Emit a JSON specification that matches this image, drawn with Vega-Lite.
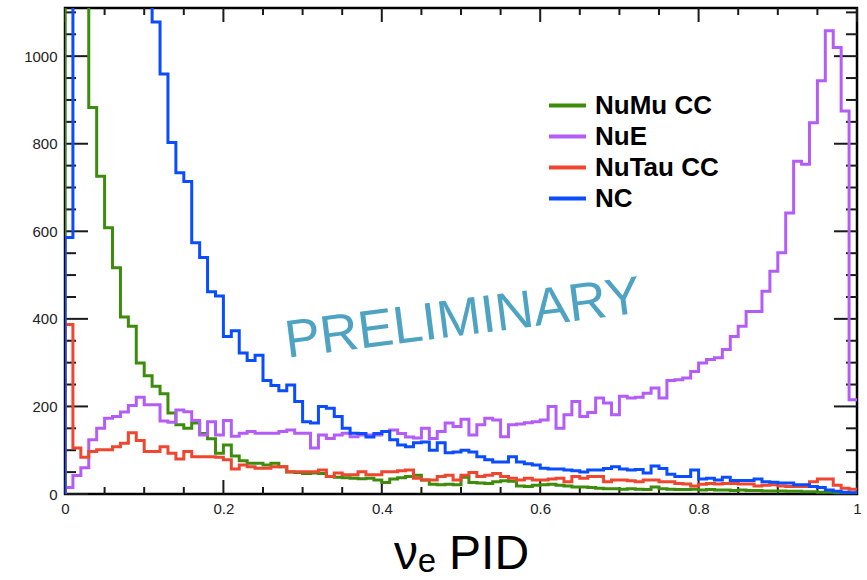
{
  "$schema": "https://vega.github.io/schema/vega-lite/v6.json",
  "width": 792,
  "height": 486,
  "autosize": {"type": "none"},
  "padding": {"left": 65, "top": 8, "right": 10, "bottom": 86},
  "background": "white",
  "datasets": {
    "hist": [
      {"x": 0, "NuMu CC": 0, "NuE": 0, "NuTau CC": 0, "NC": 0},
      {"x": 0.00, "NuMu CC": 4200, "NuE": 15, "NuTau CC": 387, "NC": 586},
      {"x": 0.01, "NuMu CC": 2400, "NuE": 42, "NuTau CC": 105, "NC": 3800},
      {"x": 0.02, "NuMu CC": 1500, "NuE": 60, "NuTau CC": 84, "NC": 3300},
      {"x": 0.03, "NuMu CC": 883, "NuE": 124, "NuTau CC": 97, "NC": 2900},
      {"x": 0.04, "NuMu CC": 726, "NuE": 150, "NuTau CC": 101, "NC": 2500},
      {"x": 0.05, "NuMu CC": 608, "NuE": 173, "NuTau CC": 101, "NC": 2200},
      {"x": 0.06, "NuMu CC": 517, "NuE": 177, "NuTau CC": 108, "NC": 1900},
      {"x": 0.07, "NuMu CC": 404, "NuE": 187, "NuTau CC": 116, "NC": 1650},
      {"x": 0.08, "NuMu CC": 383, "NuE": 202, "NuTau CC": 140, "NC": 1450},
      {"x": 0.09, "NuMu CC": 299, "NuE": 221, "NuTau CC": 122, "NC": 1300},
      {"x": 0.10, "NuMu CC": 270, "NuE": 204, "NuTau CC": 97, "NC": 1180},
      {"x": 0.11, "NuMu CC": 246, "NuE": 204, "NuTau CC": 97, "NC": 1078},
      {"x": 0.12, "NuMu CC": 229, "NuE": 167, "NuTau CC": 108, "NC": 959},
      {"x": 0.13, "NuMu CC": 185, "NuE": 164, "NuTau CC": 93, "NC": 803},
      {"x": 0.14, "NuMu CC": 158, "NuE": 192, "NuTau CC": 80, "NC": 734},
      {"x": 0.15, "NuMu CC": 150, "NuE": 188, "NuTau CC": 97, "NC": 714},
      {"x": 0.16, "NuMu CC": 162, "NuE": 168, "NuTau CC": 85, "NC": 574},
      {"x": 0.17, "NuMu CC": 138, "NuE": 135, "NuTau CC": 85, "NC": 540},
      {"x": 0.18, "NuMu CC": 126, "NuE": 165, "NuTau CC": 85, "NC": 462},
      {"x": 0.19, "NuMu CC": 93, "NuE": 135, "NuTau CC": 84, "NC": 452},
      {"x": 0.20, "NuMu CC": 112, "NuE": 168, "NuTau CC": 78, "NC": 360},
      {"x": 0.21, "NuMu CC": 87, "NuE": 132, "NuTau CC": 57, "NC": 373},
      {"x": 0.22, "NuMu CC": 76, "NuE": 139, "NuTau CC": 66, "NC": 322},
      {"x": 0.23, "NuMu CC": 70, "NuE": 143, "NuTau CC": 62, "NC": 305},
      {"x": 0.24, "NuMu CC": 70, "NuE": 139, "NuTau CC": 59, "NC": 317},
      {"x": 0.25, "NuMu CC": 66, "NuE": 139, "NuTau CC": 59, "NC": 259},
      {"x": 0.26, "NuMu CC": 70, "NuE": 139, "NuTau CC": 62, "NC": 248},
      {"x": 0.27, "NuMu CC": 62, "NuE": 143, "NuTau CC": 62, "NC": 236},
      {"x": 0.28, "NuMu CC": 50, "NuE": 146, "NuTau CC": 51, "NC": 249},
      {"x": 0.29, "NuMu CC": 49, "NuE": 139, "NuTau CC": 51, "NC": 211},
      {"x": 0.30, "NuMu CC": 47, "NuE": 139, "NuTau CC": 51, "NC": 165},
      {"x": 0.31, "NuMu CC": 48, "NuE": 105, "NuTau CC": 51, "NC": 162},
      {"x": 0.32, "NuMu CC": 47, "NuE": 135, "NuTau CC": 55, "NC": 200},
      {"x": 0.33, "NuMu CC": 40, "NuE": 127, "NuTau CC": 40, "NC": 196},
      {"x": 0.34, "NuMu CC": 38, "NuE": 135, "NuTau CC": 48, "NC": 177},
      {"x": 0.35, "NuMu CC": 37, "NuE": 139, "NuTau CC": 44, "NC": 150},
      {"x": 0.36, "NuMu CC": 36, "NuE": 131, "NuTau CC": 44, "NC": 139},
      {"x": 0.37, "NuMu CC": 35, "NuE": 135, "NuTau CC": 51, "NC": 138},
      {"x": 0.38, "NuMu CC": 36, "NuE": 135, "NuTau CC": 44, "NC": 130},
      {"x": 0.39, "NuMu CC": 32, "NuE": 135, "NuTau CC": 44, "NC": 138},
      {"x": 0.40, "NuMu CC": 26, "NuE": 143, "NuTau CC": 51, "NC": 143},
      {"x": 0.41, "NuMu CC": 34, "NuE": 146, "NuTau CC": 51, "NC": 124},
      {"x": 0.42, "NuMu CC": 37, "NuE": 138, "NuTau CC": 53, "NC": 112},
      {"x": 0.43, "NuMu CC": 40, "NuE": 130, "NuTau CC": 55, "NC": 108},
      {"x": 0.44, "NuMu CC": 43, "NuE": 128, "NuTau CC": 36, "NC": 117},
      {"x": 0.45, "NuMu CC": 32, "NuE": 150, "NuTau CC": 32, "NC": 119},
      {"x": 0.46, "NuMu CC": 22, "NuE": 127, "NuTau CC": 32, "NC": 100},
      {"x": 0.47, "NuMu CC": 21, "NuE": 143, "NuTau CC": 40, "NC": 117},
      {"x": 0.48, "NuMu CC": 22, "NuE": 162, "NuTau CC": 43, "NC": 94},
      {"x": 0.49, "NuMu CC": 21, "NuE": 154, "NuTau CC": 32, "NC": 96},
      {"x": 0.50, "NuMu CC": 38, "NuE": 171, "NuTau CC": 43, "NC": 100},
      {"x": 0.51, "NuMu CC": 26, "NuE": 135, "NuTau CC": 49, "NC": 96},
      {"x": 0.52, "NuMu CC": 25, "NuE": 158, "NuTau CC": 40, "NC": 85},
      {"x": 0.53, "NuMu CC": 24, "NuE": 173, "NuTau CC": 43, "NC": 78},
      {"x": 0.54, "NuMu CC": 28, "NuE": 169, "NuTau CC": 47, "NC": 73},
      {"x": 0.55, "NuMu CC": 30, "NuE": 131, "NuTau CC": 40, "NC": 73},
      {"x": 0.56, "NuMu CC": 29, "NuE": 158, "NuTau CC": 36, "NC": 85},
      {"x": 0.57, "NuMu CC": 18, "NuE": 160, "NuTau CC": 32, "NC": 73},
      {"x": 0.58, "NuMu CC": 17, "NuE": 163, "NuTau CC": 36, "NC": 69},
      {"x": 0.59, "NuMu CC": 20, "NuE": 165, "NuTau CC": 32, "NC": 66},
      {"x": 0.60, "NuMu CC": 21, "NuE": 169, "NuTau CC": 32, "NC": 59},
      {"x": 0.61, "NuMu CC": 22, "NuE": 200, "NuTau CC": 34, "NC": 57},
      {"x": 0.62, "NuMu CC": 20, "NuE": 150, "NuTau CC": 36, "NC": 57},
      {"x": 0.63, "NuMu CC": 18, "NuE": 181, "NuTau CC": 28, "NC": 55},
      {"x": 0.64, "NuMu CC": 16, "NuE": 211, "NuTau CC": 40, "NC": 53},
      {"x": 0.65, "NuMu CC": 16, "NuE": 177, "NuTau CC": 36, "NC": 50},
      {"x": 0.66, "NuMu CC": 15, "NuE": 186, "NuTau CC": 40, "NC": 55},
      {"x": 0.67, "NuMu CC": 13, "NuE": 219, "NuTau CC": 40, "NC": 55},
      {"x": 0.68, "NuMu CC": 12, "NuE": 208, "NuTau CC": 28, "NC": 58},
      {"x": 0.69, "NuMu CC": 12, "NuE": 181, "NuTau CC": 32, "NC": 62},
      {"x": 0.70, "NuMu CC": 11, "NuE": 223, "NuTau CC": 32, "NC": 57},
      {"x": 0.71, "NuMu CC": 12, "NuE": 219, "NuTau CC": 30, "NC": 55},
      {"x": 0.72, "NuMu CC": 11, "NuE": 221, "NuTau CC": 28, "NC": 56},
      {"x": 0.73, "NuMu CC": 10, "NuE": 230, "NuTau CC": 32, "NC": 48},
      {"x": 0.74, "NuMu CC": 16, "NuE": 242, "NuTau CC": 32, "NC": 64},
      {"x": 0.75, "NuMu CC": 12, "NuE": 219, "NuTau CC": 28, "NC": 58},
      {"x": 0.76, "NuMu CC": 11, "NuE": 259, "NuTau CC": 28, "NC": 45},
      {"x": 0.77, "NuMu CC": 10, "NuE": 261, "NuTau CC": 24, "NC": 40},
      {"x": 0.78, "NuMu CC": 10, "NuE": 265, "NuTau CC": 23, "NC": 40},
      {"x": 0.79, "NuMu CC": 11, "NuE": 280, "NuTau CC": 18, "NC": 55},
      {"x": 0.80, "NuMu CC": 9, "NuE": 299, "NuTau CC": 22, "NC": 34},
      {"x": 0.81, "NuMu CC": 10, "NuE": 307, "NuTau CC": 24, "NC": 36},
      {"x": 0.82, "NuMu CC": 9, "NuE": 311, "NuTau CC": 23, "NC": 32},
      {"x": 0.83, "NuMu CC": 9, "NuE": 330, "NuTau CC": 24, "NC": 38},
      {"x": 0.84, "NuMu CC": 8, "NuE": 360, "NuTau CC": 24, "NC": 31},
      {"x": 0.85, "NuMu CC": 9, "NuE": 383, "NuTau CC": 23, "NC": 31},
      {"x": 0.86, "NuMu CC": 8, "NuE": 417, "NuTau CC": 23, "NC": 31},
      {"x": 0.87, "NuMu CC": 8, "NuE": 417, "NuTau CC": 18, "NC": 34},
      {"x": 0.88, "NuMu CC": 7, "NuE": 463, "NuTau CC": 20, "NC": 28},
      {"x": 0.89, "NuMu CC": 7, "NuE": 509, "NuTau CC": 21, "NC": 27},
      {"x": 0.90, "NuMu CC": 7, "NuE": 551, "NuTau CC": 18, "NC": 25},
      {"x": 0.91, "NuMu CC": 6, "NuE": 642, "NuTau CC": 17, "NC": 25},
      {"x": 0.92, "NuMu CC": 6, "NuE": 760, "NuTau CC": 17, "NC": 21},
      {"x": 0.93, "NuMu CC": 5, "NuE": 753, "NuTau CC": 17, "NC": 21},
      {"x": 0.94, "NuMu CC": 5, "NuE": 848, "NuTau CC": 28, "NC": 17},
      {"x": 0.95, "NuMu CC": 4, "NuE": 944, "NuTau CC": 34, "NC": 15},
      {"x": 0.96, "NuMu CC": 4, "NuE": 1058, "NuTau CC": 34, "NC": 9},
      {"x": 0.97, "NuMu CC": 3, "NuE": 1020, "NuTau CC": 20, "NC": 6},
      {"x": 0.98, "NuMu CC": 3, "NuE": 875, "NuTau CC": 13, "NC": 4},
      {"x": 0.99, "NuMu CC": 2, "NuE": 215, "NuTau CC": 11, "NC": 3},
      {"x": 1.00, "NuMu CC": 2, "NuE": 215, "NuTau CC": 11, "NC": 3}
    ],
    "xticks": [
      {"v": 0, "kind": "major"}, {"v": 0.05, "kind": "minor"}, {"v": 0.1, "kind": "minor"}, {"v": 0.15, "kind": "minor"},
      {"v": 0.2, "kind": "major"}, {"v": 0.25, "kind": "minor"}, {"v": 0.3, "kind": "minor"}, {"v": 0.35, "kind": "minor"},
      {"v": 0.4, "kind": "major"}, {"v": 0.45, "kind": "minor"}, {"v": 0.5, "kind": "minor"}, {"v": 0.55, "kind": "minor"},
      {"v": 0.6, "kind": "major"}, {"v": 0.65, "kind": "minor"}, {"v": 0.7, "kind": "minor"}, {"v": 0.75, "kind": "minor"},
      {"v": 0.8, "kind": "major"}, {"v": 0.85, "kind": "minor"}, {"v": 0.9, "kind": "minor"}, {"v": 0.95, "kind": "minor"},
      {"v": 1, "kind": "major"}
    ],
    "yticks": [
      {"v": 0, "kind": "major"}, {"v": 50, "kind": "minor"}, {"v": 100, "kind": "minor"}, {"v": 150, "kind": "minor"},
      {"v": 200, "kind": "major"}, {"v": 250, "kind": "minor"}, {"v": 300, "kind": "minor"}, {"v": 350, "kind": "minor"},
      {"v": 400, "kind": "major"}, {"v": 450, "kind": "minor"}, {"v": 500, "kind": "minor"}, {"v": 550, "kind": "minor"},
      {"v": 600, "kind": "major"}, {"v": 650, "kind": "minor"}, {"v": 700, "kind": "minor"}, {"v": 750, "kind": "minor"},
      {"v": 800, "kind": "major"}, {"v": 850, "kind": "minor"}, {"v": 900, "kind": "minor"}, {"v": 950, "kind": "minor"},
      {"v": 1000, "kind": "major"}, {"v": 1050, "kind": "minor"}, {"v": 1100, "kind": "minor"}
    ],
    "wm": [{"x": 0.505, "y": 363, "label": "PRELIMINARY"}]
  },
  "layer": [
    {
      "data": {"name": "xticks"},
      "transform": [{"filter": {"field": "kind", "equal": "major"}}],
      "mark": {"type": "point", "shape": "M0,0L0,-1", "size": 784, "filled": false, "strokeWidth": 2, "color": "#1a1a1a", "opacity": 1},
      "encoding": {"x": {"field": "v", "type": "quantitative", "scale": {"domain": [0, 1], "nice": false, "zero": false}}, "y": {"datum": 0, "type": "quantitative", "scale": {"domain": [0, 1110], "nice": false}}}
    },
    {
      "data": {"name": "xticks"},
      "transform": [{"filter": {"field": "kind", "equal": "minor"}}],
      "mark": {"type": "point", "shape": "M0,0L0,-1", "size": 196, "filled": false, "strokeWidth": 2, "color": "#1a1a1a", "opacity": 1},
      "encoding": {"x": {"field": "v", "type": "quantitative"}, "y": {"datum": 0, "type": "quantitative"}}
    },
    {
      "data": {"name": "xticks"},
      "transform": [{"filter": {"field": "kind", "equal": "major"}}],
      "mark": {"type": "point", "shape": "M0,0L0,1", "size": 784, "filled": false, "strokeWidth": 2, "color": "#1a1a1a", "opacity": 1},
      "encoding": {"x": {"field": "v", "type": "quantitative"}, "y": {"datum": 1110, "type": "quantitative"}}
    },
    {
      "data": {"name": "xticks"},
      "transform": [{"filter": {"field": "kind", "equal": "minor"}}],
      "mark": {"type": "point", "shape": "M0,0L0,1", "size": 196, "filled": false, "strokeWidth": 2, "color": "#1a1a1a", "opacity": 1},
      "encoding": {"x": {"field": "v", "type": "quantitative"}, "y": {"datum": 1110, "type": "quantitative"}}
    },
    {
      "data": {"name": "yticks"},
      "transform": [{"filter": {"field": "kind", "equal": "major"}}],
      "mark": {"type": "point", "shape": "M0,0L1,0", "size": 2116, "filled": false, "strokeWidth": 2, "color": "#1a1a1a", "opacity": 1},
      "encoding": {"y": {"field": "v", "type": "quantitative"}, "x": {"datum": 0, "type": "quantitative"}}
    },
    {
      "data": {"name": "yticks"},
      "transform": [{"filter": {"field": "kind", "equal": "minor"}}],
      "mark": {"type": "point", "shape": "M0,0L1,0", "size": 484, "filled": false, "strokeWidth": 2, "color": "#1a1a1a", "opacity": 1},
      "encoding": {"y": {"field": "v", "type": "quantitative"}, "x": {"datum": 0, "type": "quantitative"}}
    },
    {
      "data": {"name": "yticks"},
      "transform": [{"filter": {"field": "kind", "equal": "major"}}],
      "mark": {"type": "point", "shape": "M0,0L-1,0", "size": 2116, "filled": false, "strokeWidth": 2, "color": "#1a1a1a", "opacity": 1},
      "encoding": {"y": {"field": "v", "type": "quantitative"}, "x": {"datum": 1, "type": "quantitative"}}
    },
    {
      "data": {"name": "yticks"},
      "transform": [{"filter": {"field": "kind", "equal": "minor"}}],
      "mark": {"type": "point", "shape": "M0,0L-1,0", "size": 484, "filled": false, "strokeWidth": 2, "color": "#1a1a1a", "opacity": 1},
      "encoding": {"y": {"field": "v", "type": "quantitative"}, "x": {"datum": 1, "type": "quantitative"}}
    },
    {
      "data": {"name": "hist"},
      "transform": [{"fold": ["NuMu CC", "NuE", "NuTau CC", "NC"], "as": ["series", "count"]}],
      "mark": {"type": "line", "interpolate": "step-after", "strokeWidth": 3, "clip": true},
      "encoding": {
        "x": {"field": "x", "type": "quantitative",
          "axis": {"orient": "bottom", "values": [0, 0.2, 0.4, 0.6, 0.8, 1], "format": "~g", "ticks": false, "domain": false, "grid": false,
            "labelFlush": false, "labelOverlap": false, "labelFont": "Liberation Sans", "labelFontSize": 15, "labelColor": "#222", "labelPadding": 7,
            "title": "νₑ PID", "titleFont": "Liberation Sans", "titleFontSize": 48, "titleFontWeight": "normal", "titleColor": "black",
            "titleBaseline": "alphabetic", "titleY": 74}},
        "y": {"field": "count", "type": "quantitative",
          "axis": {"orient": "left", "values": [0, 200, 400, 600, 800, 1000], "format": "d", "ticks": false, "domain": false, "grid": false,
            "labelFont": "Liberation Sans", "labelFontSize": 15, "labelColor": "#222", "labelPadding": 8, "title": null}},
        "color": {"field": "series", "type": "nominal",
          "scale": {"domain": ["NuMu CC", "NuE", "NuTau CC", "NC"], "range": ["#3d8c0c", "#b45cf7", "#ef4630", "#0a4cff"]},
          "legend": {"orient": "none", "legendX": 482, "legendY": 82, "title": null, "padding": 0,
            "symbolType": "stroke", "symbolSize": 1369, "symbolStrokeWidth": 4, "symbolOpacity": 1,
            "labelFont": "Liberation Sans", "labelFontSize": 26, "labelFontWeight": "bold", "labelColor": "black",
            "labelOffset": 7, "rowPadding": 0, "clipHeight": 31}},
        "order": {"value": null}
      }
    },
    {
      "data": {"name": "wm"},
      "mark": {"type": "text", "font": "Liberation Sans", "fontSize": 53, "angle": 352.7, "align": "center", "baseline": "alphabetic", "color": "#4ea3c2"},
      "encoding": {
        "x": {"field": "x", "type": "quantitative"},
        "y": {"field": "y", "type": "quantitative"},
        "text": {"field": "label"}
      }
    }
  ],
  "config": {
    "view": {"stroke": "black", "strokeWidth": 2.5}
  }
}
